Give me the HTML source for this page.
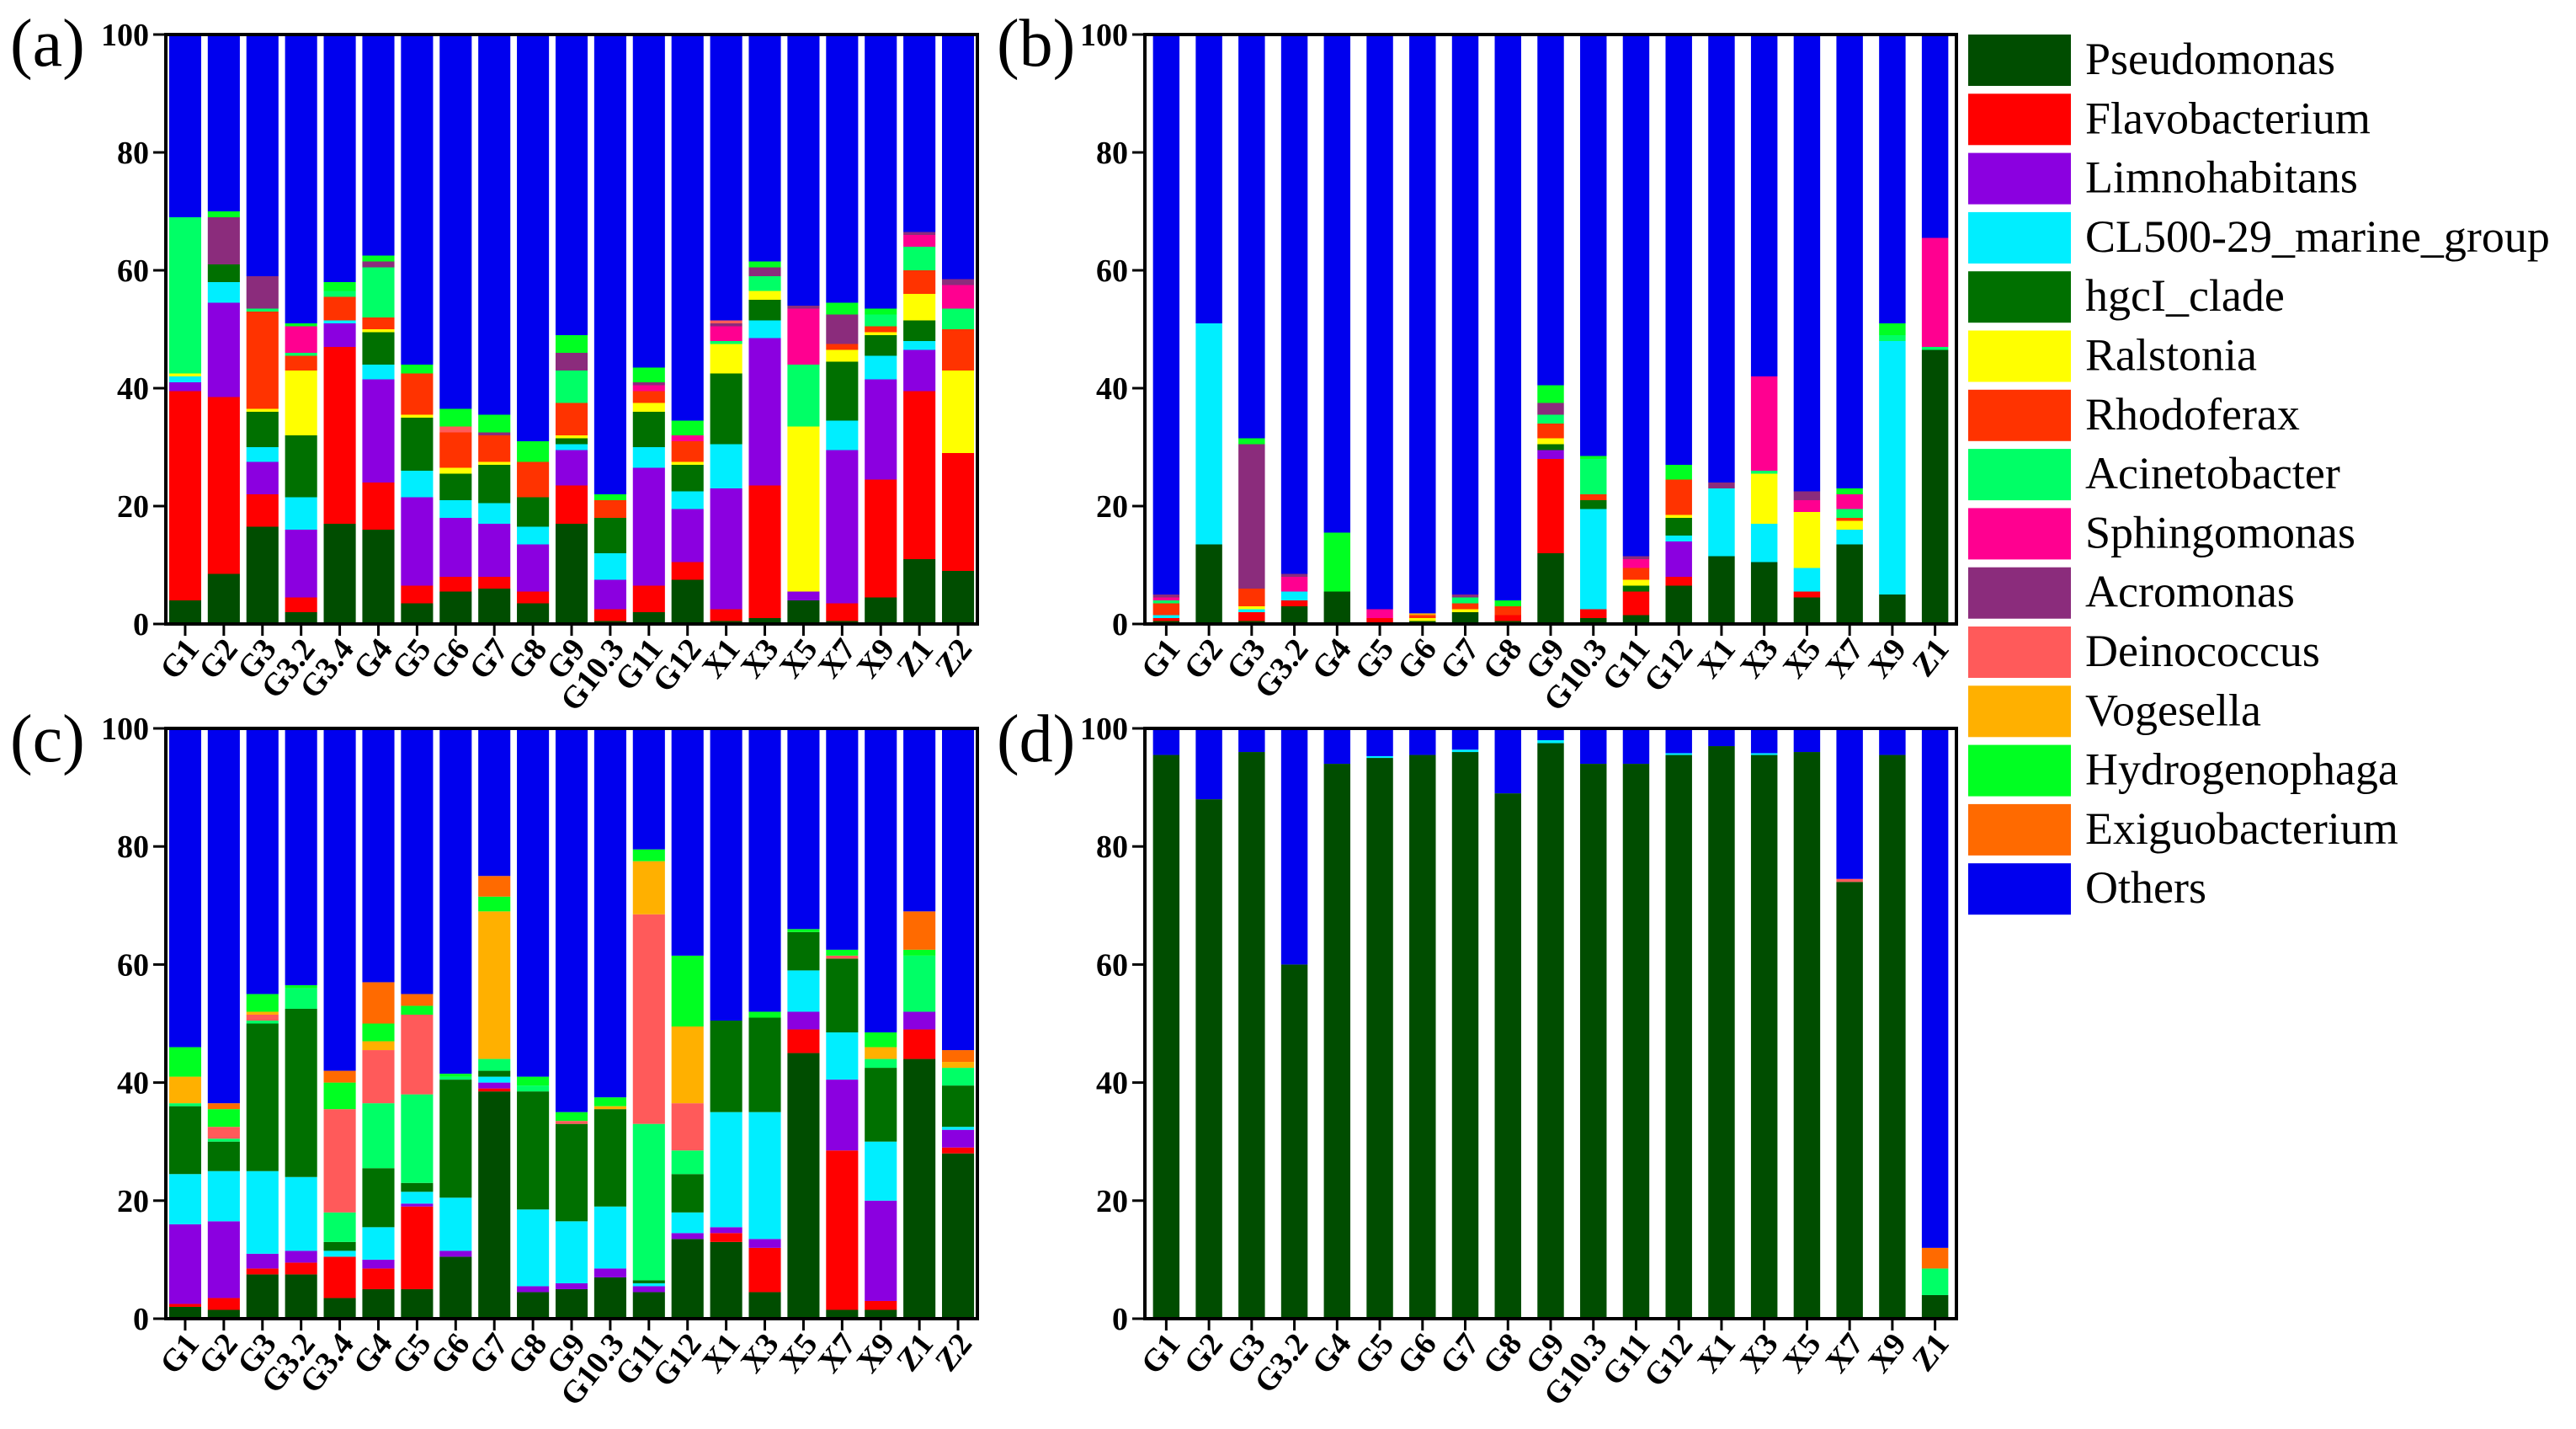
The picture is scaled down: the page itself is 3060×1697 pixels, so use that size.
<!DOCTYPE html>
<html><head><meta charset="utf-8"><style>
html,body{margin:0;padding:0;background:#fff;}
svg{display:block;}
text{font-family:"Liberation Serif",serif;}
</style></head><body>
<svg id="fig" width="3060" height="1697" viewBox="0 0 3060 1697" xmlns="http://www.w3.org/2000/svg"></svg>
<script>
// ---------- categories ----------
const catsAC = ["G1","G2","G3","G3.2","G3.4","G4","G5","G6","G7","G8","G9","G10.3","G11","G12","X1","X3","X5","X7","X9","Z1","Z2"];
const catsBD = ["G1","G2","G3","G3.2","G4","G5","G6","G7","G8","G9","G10.3","G11","G12","X1","X3","X5","X7","X9","Z1"];
const genera = ["Pseudomonas","Flavobacterium","Limnohabitans","CL500-29_marine_group","hgcI_clade","Ralstonia","Rhodoferax","Acinetobacter","Sphingomonas","Acromonas","Deinococcus","Vogesella","Hydrogenophaga","Exiguobacterium","Others"];
const yTicks = [0,20,40,60,80,100];

// ---------- panel (a) ----------
const aPse = [4,8.5,16.5,2,17,16,3.5,5.5,6,3.5,17,0.5,2,7.5,0.5,1,4,0.5,4.5,11,9];
const aFla = [35.5,30,5.5,2.5,30,8,3,2.5,2,2,6.5,2,4.5,3,2,22.5,0,3,20,28.5,20];
const aLim = [1.5,16,5.5,11.5,4,17.5,15,10,9,8,6,5,20,9,20.5,25,1.5,26,17,7,0];
const aCL  = [1,3.5,2.5,5.5,0.5,2.5,4.5,3,3.5,3,1,4.5,3.5,3,7.5,3,0,5,4,1.5,0];
const aHgc = [0,3,6,10.5,0,5.5,9,4.5,6.5,5,1,6,6,4.5,12,3.5,0,10,3.5,3.5,0];
const aRal = [0.5,0,0.5,11,0,0.5,0.5,1,0.5,0,0.5,0,1.5,0.5,5,1.5,28,2,0.5,4.5,14];
const aRho = [0,0,16.5,2.5,4,2,7,6,4.5,6,5.5,3,2,3.5,0,0,0,1,1,4,7];
const aAci = [26.5,0,0.5,0.5,1,8.5,0,0,0,0,5.5,0,0,0,0.5,2.5,10.5,0,2,4,3.5];
const aSph = [0,0,0,4.5,0,0,0,0,0,0,0,0,1,1,2.5,0,9.5,0,0,2,4];
const aAer = [0,8,5.5,0,0,1,0,0,0.5,0,3,0,0.5,0,0.5,1.5,0.5,5,0,0.5,1];
const aDei = [0,0,0,0,0,0,0,1,0,0,0,0,0,0,0.5,0,0,0,0,0,0];
const aVog = [0,0,0,0,0,0,0,0,0,0,0,0,0,0,0,0,0,0,0,0,0];
const aHyd = [0,1,0,0.5,1.5,1,1.5,3,3,3.5,3,1,2.5,2.5,0,1,0,2,1,0,0];
const aExi = [0,0,0,0,0,0,0,0,0,0,0,0,0,0,0,0,0,0,0,0,0];
const aOth = [31,30,41,49,42,37.5,56,63.5,64.5,69,51,78,56.5,65.5,48.5,38.5,46,45.5,46.5,33.5,41.5];

// ---------- panel (b) ----------
const bPse = [0.5,13.5,0.5,3,5.5,0,0.5,2,0.5,12,1,1.5,6.5,11.5,10.5,4.5,13.5,5,46.5];
const bFla = [0.5,0,1.5,1,0,1,0,0,1,16,1.5,4,1.5,0,0,1,0,0,0];
const bLim = [0,0,0,0,0,0,0,0,0,1.5,0,0,6,0,0,0,0,0,0];
const bCL  = [0.5,37.5,0.5,1.5,0,0,0,0,0,0,17,0,1,11.5,6.5,4,2.5,43,0];
const bHgc = [0,0,0,0,0,0,0,0,0,1,1.5,1,3,0,0,0,0,0,0];
const bRal = [0,0,0.5,0,0,0,0.5,0.5,0,1,0,1,0.5,0,8.5,9.5,1.5,0,0];
const bRho = [2,0,3,0,0,0,0.5,1,1.5,2.5,1,2,6,0,0,0,0.5,0,0];
const bAci = [0.5,0,0,0,0,0,0,1,0,1.5,6,0,0,0,0.5,0,1.5,1,0.5];
const bSph = [0.5,0,0,2.5,0,1.5,0,0,0,0,0,1.5,0,0,16,2,2.5,0,18.5];
const bAer = [0.5,0,24.5,0.5,0,0,0,0.5,0,2,0,0.5,0,1,0,1.5,0,0,0];
const bDei = [0,0,0,0,0,0,0,0,0,0,0,0,0,0,0,0,0,0,0];
const bVog = [0,0,0,0,0,0,0.3,0,0,0,0,0,0,0,0,0,0,0,0];
const bHyd = [0,0,1,0,10,0,0,0,1,3,0.5,0,2.5,0,0,0,1,2,0];
const bExi = [0,0,0,0,0,0,0,0,0,0,0,0,0,0,0,0,0,0,0];
const bOth = [95,49,68.5,91.5,84.5,97.5,98.2,95,96,59.5,71.5,88.5,73,76,58,77.5,77,49,34.5];

// ---------- panel (c) ----------
const cPse = [2,1.5,7.5,7.5,3.5,5,5,10.5,38.5,4.5,5,7,4.5,13.5,13,4.5,45,1.5,1.5,44,28];
const cFla = [0.5,2,1,2,7,3.5,14,0,0.5,0,0,0,0,0,1.5,7.5,4,27,1.5,5,1];
const cLim = [13.5,13,2.5,2,0,1.5,0.5,1,1,1,1,1.5,1,1,1,1.5,3,12,17,3,3];
const cCL  = [8.5,8.5,14,12.5,1,5.5,2,9,1,13,10.5,10.5,0.5,3.5,19.5,21.5,7,8,10,0,0.5];
const cHgc = [11.5,5,25,28.5,1.5,10,1.5,20,1,20,16.5,16.5,0.5,6.5,15.5,16,6.5,12.5,12.5,0,7];
const cRal = [0,0,0,0,0,0,0,0,0,0,0,0,0,0,0,0,0,0,0,0,0];
const cRho = [0,0,0,0,0,0,0,0,0,0,0,0,0,0,0,0,0,0,0,0,0];
const cAci = [0.5,0.5,0.5,3.5,5,11,15,0.5,2,1,0,0,26.5,4,0,0,0,0,1.5,9.5,3];
const cSph = [0,0,0,0,0,0,0,0,0,0,0,0,0,0,0,0,0,0,0,0,0];
const cAer = [0,0,0,0,0,0,0,0,0,0,0,0,0,0,0,0,0,0,0,0,0];
const cDei = [0,2,1,0,17.5,9,13.5,0,0,0,0.5,0,35.5,8,0,0,0,0.5,0,0,0];
const cVog = [4.5,0,0.5,0,0,1.5,0,0,25,0,0,0.5,9,13,0,0,0,0,2,0,1];
const cHyd = [5,3,3,0.5,4.5,3,1.5,0.5,2.5,1.5,1.5,1.5,2,12,0,1,0.5,1,2.5,1,0];
const cExi = [0,1,0,0,2,7,2,0,3.5,0,0,0,0,0,0,0,0,0,0,6.5,2];
const cOth = [54,63.5,45,43.5,58,43,45,58.5,25,59,65,62.5,20.5,38.5,49.5,48,34,37.5,51.5,31,54.5];

// ---------- panel (d) ----------
const dPse = [95.5,88,96,60,94,95,95.5,96,89,97.5,94,94,95.5,97,95.5,96,74,95.5,4];
const dFla = [0,0,0,0,0,0,0,0,0,0,0,0,0,0,0,0,0,0,0];
const dLim = [0,0,0,0,0,0,0,0,0,0,0,0,0,0,0,0,0,0,0];
const dCL  = [0,0,0,0,0,0.3,0,0.4,0,0.5,0,0,0.3,0,0.3,0,0,0,0];
const dHgc = [0,0,0,0,0,0,0,0,0,0,0,0,0,0,0,0,0,0,0];
const dRal = [0,0,0,0,0,0,0,0,0,0,0,0,0,0,0,0,0,0,0];
const dRho = [0,0,0,0,0,0,0,0,0,0,0,0,0,0,0,0,0,0,0];
const dAci = [0,0,0,0,0,0,0,0,0,0,0,0,0,0,0,0,0,0,4.5];
const dSph = [0,0,0,0,0,0,0,0,0,0,0,0,0,0,0,0,0,0,0];
const dAer = [0,0,0,0,0,0,0,0,0,0,0,0,0,0,0,0,0,0,0];
const dDei = [0,0,0,0,0,0,0,0,0,0,0,0,0,0,0,0,0.5,0,0];
const dVog = [0,0,0,0,0,0,0,0,0,0,0,0,0,0,0,0,0,0,0];
const dHyd = [0,0,0,0,0,0,0,0,0,0,0,0,0,0,0,0,0,0,0];
const dExi = [0,0,0,0,0,0,0,0,0,0,0,0,0,0,0,0,0,0,3.5];
const dOth = [4.5,12,4,40,6,4.7,4.5,3.6,11,2,6,6,4.2,3,4.2,4,25.5,4.5,88];

const colors = ["#004d00","#ff0000","#8b00e0","#00eeff","#007000","#ffff00","#ff3300","#00ff66","#ff0090","#8b2c7c","#ff5a5a","#ffb000","#00ff22","#ff6a00","#0000ee"];

const NS = "http://www.w3.org/2000/svg";
const FONT = "Liberation Serif, serif";
const svg = document.getElementById("fig");
function mk(tag, attrs, parent){
  const e = document.createElementNS(NS, tag);
  for (const k in attrs) e.setAttribute(k, attrs[k]);
  (parent||svg).appendChild(e);
  return e;
}

function drawPanel(id, letter, cats, series, x0, x1, y0, y1, barFrac, letterX, letterY){
  const g = mk("g", {});
  
  
  const n = cats.length;
  const slot = (x1 - x0) / n;
  const bw = slot * barFrac;
  const yScale = v => y1 - (v / 100) * (y1 - y0);
  const xCenter = i => x0 + slot * (i + 0.5);
  for (let i = 0; i < n; i++) {
    let cum = 0;
    for (let s = 0; s < series.length; s++) {
      const v = series[s][i];
      if (!v) continue;
      const top = yScale(cum + v), bot = yScale(cum);
      const r = mk("rect", {x: xCenter(i) - bw/2, y: top, width: bw, height: Math.max(bot - top, 0), fill: colors[s]}, g);
      
      
      cum += v;
    }
  }
  const fr = mk("rect", {x: x0, y: y0, width: x1 - x0, height: y1 - y0, fill: "none", stroke: "#000", "stroke-width": 4}, g);
  
  
  for (const t of yTicks) {
    const y = yScale(t);
    mk("line", {x1: x0 - 15, x2: x0, y1: y, y2: y, stroke: "#000", "stroke-width": 3}, g);
    const tx = mk("text", {x: x0 - 20, y: y + 13, "text-anchor": "end", "font-size": 38, "font-weight": "bold", "font-family": FONT}, g);
    tx.textContent = t;
    
    
  }
  for (let i = 0; i < n; i++) {
    const cx = xCenter(i);
    mk("line", {x1: cx, x2: cx, y1: y1, y2: y1 + 14, stroke: "#000", "stroke-width": 3}, g);
    const tx = mk("text", {x: 0, y: 0, "text-anchor": "end", "font-size": 38, "font-weight": "bold", "font-family": FONT,
      transform: "translate(" + (cx + 18) + "," + (y1 + 30) + ") rotate(-52)"}, g);
    tx.textContent = cats[i];
    
    
  }
  const lt = mk("text", {x: letterX, y: letterY, "font-size": 80, "font-family": FONT}, g);
  lt.textContent = "(" + letter + ")";
  
  
}

drawPanel("a", "a", catsAC, [aPse,aFla,aLim,aCL,aHgc,aRal,aRho,aAci,aSph,aAer,aDei,aVog,aHyd,aExi,aOth], 197, 1161, 41, 741, 0.83, 12, 78);
drawPanel("b", "b", catsBD, [bPse,bFla,bLim,bCL,bHgc,bRal,bRho,bAci,bSph,bAer,bDei,bVog,bHyd,bExi,bOth], 1360, 2324, 41, 741, 0.62, 1184, 78);
drawPanel("c", "c", catsAC, [cPse,cFla,cLim,cCL,cHgc,cRal,cRho,cAci,cSph,cAer,cDei,cVog,cHyd,cExi,cOth], 197, 1161, 865, 1566, 0.83, 12, 904);
drawPanel("d", "d", catsBD, [dPse,dFla,dLim,dCL,dHgc,dRal,dRho,dAci,dSph,dAer,dDei,dVog,dHyd,dExi,dOth], 1360, 2324, 865, 1566, 0.62, 1184, 904);

const lg = mk("g", {});


for (let s = 0; s < genera.length; s++) {
  const y = 41 + s * 70.3;
  const sw = mk("rect", {x: 2338, y: y, width: 122, height: 61, fill: colors[s]}, lg);
  
  
  const t = mk("text", {x: 2477, y: y + 47, "font-size": 54, "font-family": FONT}, lg);
  t.textContent = genera[s];
  
  
}
</script>
</body></html>
